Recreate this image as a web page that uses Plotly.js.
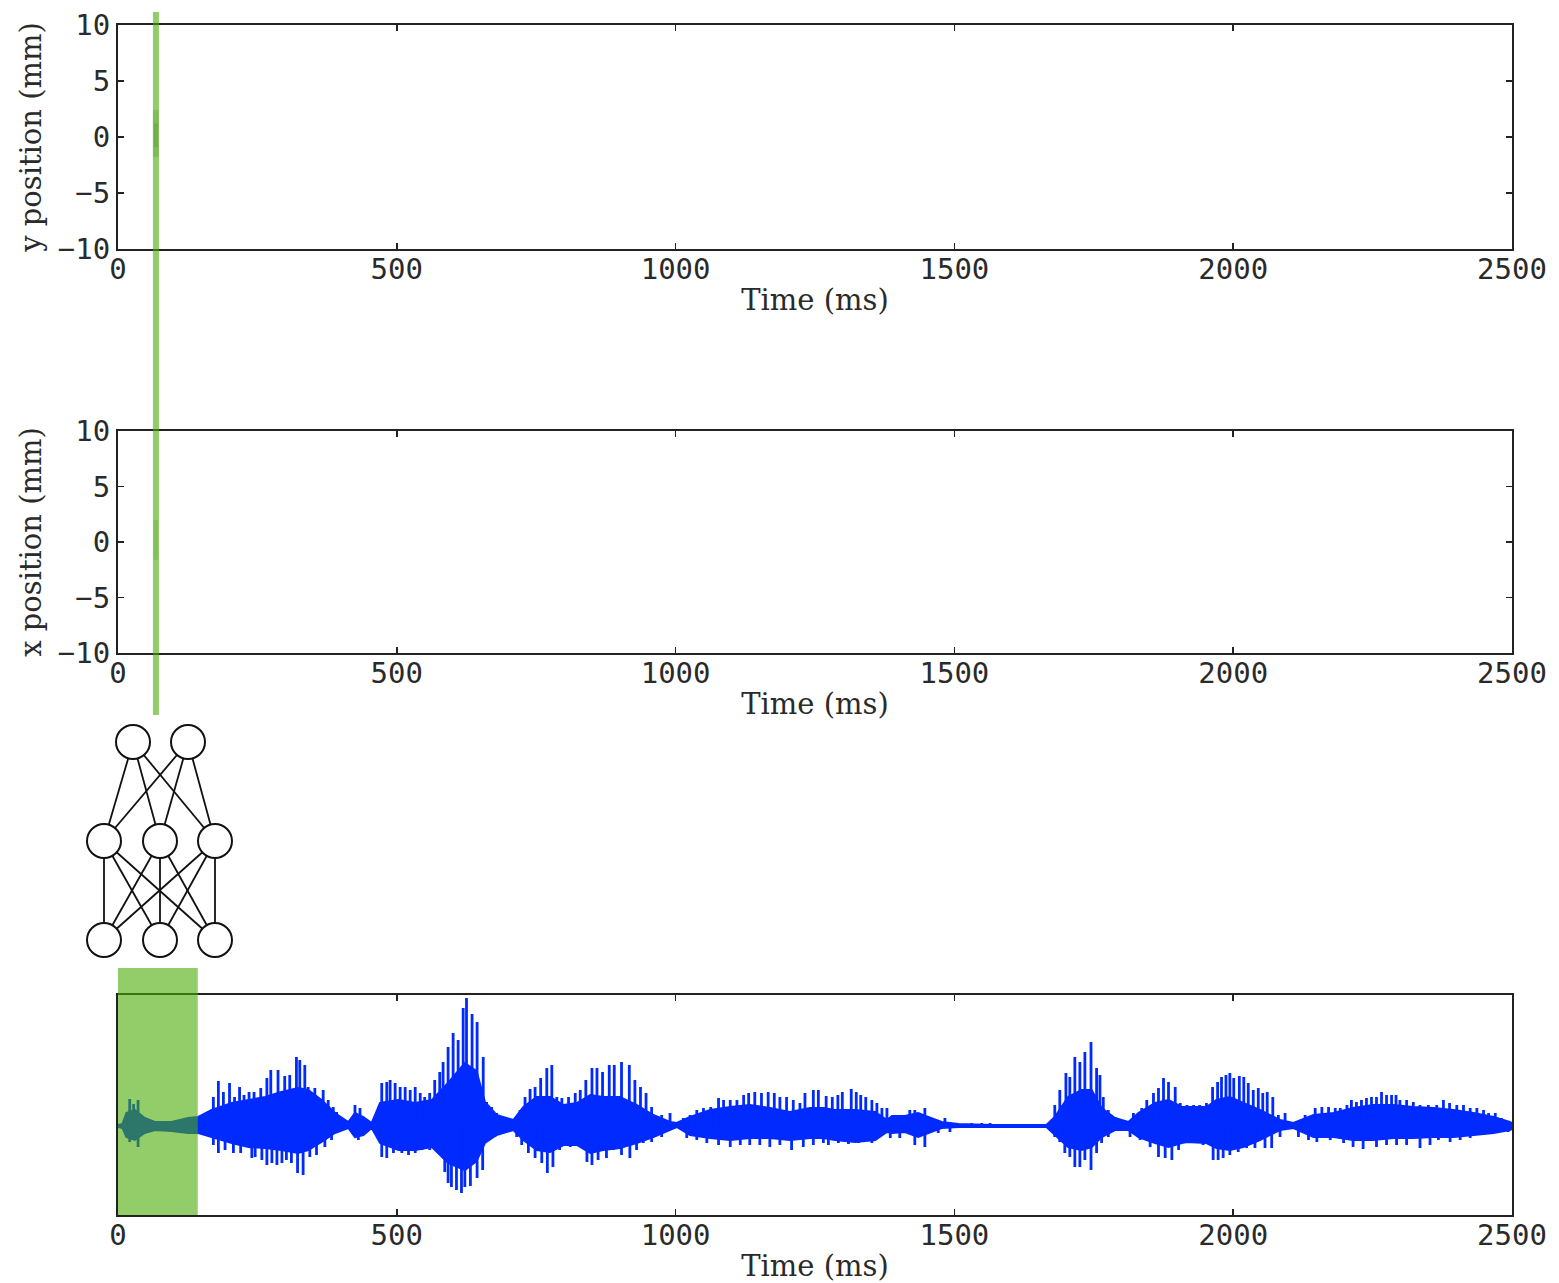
<!DOCTYPE html>
<html>
<head>
<meta charset="utf-8">
<script src="https://cdn.plot.ly/plotly-3.0.1.min.js"></script>
<style>html,body{margin:0;padding:0;background:#fff;}#chart{width:1559px;height:1283px;}</style>
</head>
<body>
<div id="chart"></div>
<script>
// ---------------- data ----------------
const timeTicks = [0, 500, 1000, 1500, 2000, 2500];
const posTicks = [-10, -5, 0, 5, 10];

// current window position (ms) and predicted positions (mm, faint band)
const windowTime = [68];
const yPosLow = [-1.8];
const yPosHigh = [2.4];
const xPosLow = [-1.6];
const xPosHigh = [2.0];

// analysed window of the audio (ms)
const windowStart = [0];
const windowEnd = [143];

// audio waveform: dense core envelope
const coreT = [0,8,15,30,48,66,96,126,144,168,204,234,264,293,323,341,365,389,413,425,440,455,470,503,533,563,592,622,643,658,679,709,727,751,775,799,823,847,870,900,930,960,990,1002,1026,1062,1098,1133,1169,1205,1241,1265,1286,1322,1358,1379,1388,1411,1435,1453,1477,1507,1567,1665,1680,1704,1728,1746,1764,1788,1812,1830,1860,1884,1908,1917,1952,1970,1994,2018,2048,2084,2108,2144,2180,2215,2251,2287,2323,2359,2395,2431,2467,2496,2500];
const coreTop = [0.01,0.02,0.13,0.16,0.08,0.04,0.04,0.08,0.09,0.16,0.23,0.26,0.29,0.34,0.38,0.36,0.26,0.13,0.04,0.13,0.09,0.03,0.23,0.26,0.23,0.26,0.43,0.63,0.55,0.24,0.11,0.06,0.19,0.29,0.29,0.21,0.23,0.31,0.29,0.29,0.21,0.11,0.04,0.03,0.09,0.16,0.19,0.21,0.18,0.14,0.18,0.18,0.16,0.16,0.14,0.06,0.10,0.10,0.13,0.09,0.04,0.02,0.01,0.01,0.09,0.29,0.36,0.36,0.18,0.08,0.04,0.13,0.23,0.26,0.19,0.19,0.19,0.26,0.29,0.23,0.16,0.06,0.03,0.11,0.13,0.18,0.21,0.21,0.19,0.18,0.16,0.13,0.09,0.04,0.03];
const coreBot = [-0.01,-0.02,-0.11,-0.14,-0.07,-0.04,-0.05,-0.07,-0.07,-0.11,-0.17,-0.21,-0.22,-0.24,-0.27,-0.24,-0.16,-0.07,-0.02,-0.11,-0.09,-0.02,-0.17,-0.24,-0.24,-0.21,-0.37,-0.44,-0.35,-0.17,-0.09,-0.04,-0.14,-0.24,-0.26,-0.19,-0.19,-0.27,-0.24,-0.22,-0.17,-0.11,-0.04,-0.01,-0.09,-0.12,-0.14,-0.12,-0.12,-0.14,-0.12,-0.12,-0.14,-0.16,-0.14,-0.06,-0.07,-0.06,-0.11,-0.07,-0.02,-0.01,-0.01,-0.01,-0.09,-0.21,-0.24,-0.21,-0.11,-0.04,-0.04,-0.11,-0.17,-0.21,-0.17,-0.16,-0.17,-0.22,-0.24,-0.21,-0.14,-0.04,-0.02,-0.11,-0.11,-0.14,-0.14,-0.12,-0.12,-0.11,-0.11,-0.09,-0.07,-0.04,-0.03];

// audio waveform: positive glottal-pulse spikes
const upT = [21,28,36,171,180,189,200,209,218,226,235,244,256,267,274,287,299,308,320,326,335,341,353,368,377,386,392,404,425,434,473,482,488,497,506,515,524,533,542,550,559,568,577,583,592,601,610,619,625,635,644,655,661,670,679,721,730,739,748,758,769,778,787,796,808,820,829,839,850,859,869,881,890,903,917,927,937,947,957,975,990,1014,1026,1038,1050,1063,1077,1086,1098,1110,1122,1131,1142,1154,1166,1177,1187,1199,1211,1223,1232,1247,1256,1270,1281,1291,1299,1315,1324,1332,1341,1352,1361,1370,1379,1388,1405,1420,1429,1447,1459,1483,1495,1531,1549,1564,1680,1689,1700,1707,1716,1725,1734,1745,1755,1761,1767,1776,1788,1821,1836,1845,1857,1866,1875,1884,1896,1905,1917,1929,1940,1952,1963,1972,1979,1987,1994,2001,2011,2019,2027,2036,2045,2053,2061,2071,2081,2093,2129,2147,2159,2171,2183,2192,2204,2212,2221,2230,2239,2248,2257,2266,2275,2284,2292,2299,2311,2323,2335,2350,2365,2377,2388,2401,2413,2425,2437,2449,2458,2470,2481,2493];
const upV = [0.27,0.22,0.26,0.29,0.45,0.34,0.43,0.29,0.39,0.31,0.34,0.34,0.38,0.48,0.56,0.56,0.50,0.51,0.69,0.66,0.61,0.39,0.38,0.36,0.26,0.19,0.14,0.06,0.21,0.18,0.43,0.44,0.46,0.43,0.39,0.39,0.36,0.39,0.33,0.29,0.33,0.46,0.54,0.64,0.79,0.93,0.86,1.18,1.28,1.12,1.04,0.69,0.24,0.19,0.13,0.16,0.29,0.37,0.39,0.48,0.58,0.61,0.29,0.28,0.29,0.33,0.36,0.46,0.58,0.58,0.54,0.61,0.61,0.64,0.61,0.46,0.39,0.33,0.19,0.11,0.13,0.08,0.11,0.16,0.18,0.19,0.28,0.26,0.26,0.26,0.31,0.33,0.34,0.33,0.34,0.33,0.29,0.29,0.26,0.23,0.33,0.36,0.36,0.30,0.29,0.31,0.34,0.37,0.34,0.31,0.29,0.26,0.23,0.18,0.18,0.09,0.10,0.16,0.16,0.18,0.08,0.08,0.03,0.03,0.03,0.03,0.21,0.36,0.53,0.49,0.69,0.64,0.74,0.84,0.58,0.51,0.29,0.16,0.09,0.13,0.18,0.26,0.33,0.38,0.48,0.44,0.39,0.23,0.21,0.21,0.21,0.23,0.39,0.44,0.49,0.51,0.53,0.48,0.50,0.49,0.43,0.36,0.38,0.33,0.34,0.29,0.11,0.13,0.11,0.18,0.19,0.19,0.18,0.18,0.21,0.26,0.24,0.26,0.28,0.29,0.29,0.34,0.31,0.31,0.31,0.26,0.26,0.24,0.21,0.21,0.21,0.26,0.23,0.21,0.21,0.18,0.18,0.16,0.13,0.13,0.08,0.04];

// audio waveform: negative spikes
const dnT = [21,36,171,180,192,207,220,240,246,258,267,276,285,294,302,311,322,332,344,356,371,383,392,431,473,482,494,509,521,533,545,559,574,586,592,598,607,616,622,632,644,654,661,676,691,715,724,736,748,760,770,780,792,811,829,841,850,861,876,888,903,918,930,942,957,975,990,1020,1038,1056,1077,1098,1116,1133,1151,1169,1187,1208,1229,1247,1265,1274,1292,1310,1328,1352,1385,1402,1429,1447,1471,1492,1680,1689,1698,1707,1716,1725,1734,1745,1755,1764,1776,1815,1833,1851,1866,1878,1890,1902,1926,1946,1964,1973,1982,1994,2009,2024,2039,2057,2069,2084,2117,2135,2150,2174,2198,2215,2233,2257,2275,2293,2311,2335,2353,2368,2389,2407,2425,2449,2473,2493];
const dnV = [-0.16,-0.21,-0.19,-0.27,-0.24,-0.27,-0.27,-0.32,-0.31,-0.34,-0.39,-0.37,-0.39,-0.37,-0.34,-0.37,-0.47,-0.49,-0.31,-0.29,-0.21,-0.14,-0.07,-0.14,-0.31,-0.32,-0.27,-0.27,-0.29,-0.27,-0.24,-0.24,-0.24,-0.46,-0.57,-0.61,-0.64,-0.67,-0.61,-0.60,-0.52,-0.44,-0.16,-0.11,-0.07,-0.11,-0.19,-0.27,-0.32,-0.37,-0.47,-0.41,-0.24,-0.21,-0.21,-0.36,-0.39,-0.34,-0.32,-0.24,-0.29,-0.32,-0.24,-0.17,-0.16,-0.11,-0.04,-0.12,-0.14,-0.17,-0.19,-0.21,-0.19,-0.19,-0.19,-0.21,-0.19,-0.24,-0.21,-0.19,-0.17,-0.19,-0.17,-0.18,-0.17,-0.17,-0.12,-0.12,-0.19,-0.21,-0.07,-0.06,-0.11,-0.16,-0.27,-0.31,-0.41,-0.41,-0.34,-0.44,-0.27,-0.17,-0.11,-0.11,-0.14,-0.21,-0.31,-0.32,-0.34,-0.24,-0.17,-0.19,-0.34,-0.34,-0.32,-0.29,-0.26,-0.22,-0.22,-0.22,-0.22,-0.11,-0.11,-0.14,-0.16,-0.14,-0.17,-0.21,-0.23,-0.21,-0.19,-0.19,-0.19,-0.22,-0.19,-0.14,-0.16,-0.14,-0.12,-0.09,-0.07,-0.06];

// ---------------- styling / layout helpers ----------------
const W = 1559, H = 1283;
const M = {l: 118, r: 47, t: 25, b: 68};
const PW = W - M.l - M.r, PH = H - M.t - M.b;
const pxX = p => (p - M.l) / PW;
const pxY = p => (H - M.b - p) / PH;

const BLUE = 'rgb(0,42,255)';
const GREEN = 'rgba(74,172,5,0.6)';
const tickFont = {family: 'DejaVu Sans Mono', size: 29, color: '#2a2a2a'};
const titleFont = {family: 'DejaVu Serif', size: 29, color: '#2a2a2a'};

function spikes(ts, vs) {
  const x = [], y = [];
  ts.forEach((t, i) => { x.push(t, t, null); y.push(0, vs[i], null); });
  return {x, y};
}
const su = spikes(upT, upV), sd = spikes(dnT, dnV);

const traces = [
  {x: [windowTime[0], windowTime[0]], y: [yPosLow[0], yPosHigh[0]], xaxis: 'x', yaxis: 'y', mode: 'lines',
   line: {color: 'rgba(120,140,110,0.35)', width: 6}, hoverinfo: 'skip', showlegend: false},
  {x: [windowTime[0], windowTime[0]], y: [yPosLow[0] * 0.5, yPosHigh[0] * 0.5], xaxis: 'x', yaxis: 'y', mode: 'lines',
   line: {color: 'rgba(100,120,90,0.35)', width: 4}, hoverinfo: 'skip', showlegend: false},
  {x: [windowTime[0], windowTime[0]], y: [xPosLow[0], xPosHigh[0]], xaxis: 'x2', yaxis: 'y2', mode: 'lines',
   line: {color: 'rgba(150,160,140,0.3)', width: 5}, hoverinfo: 'skip', showlegend: false},
  {x: coreT.concat(coreT.slice().reverse()), y: coreTop.concat(coreBot.slice().reverse()),
   xaxis: 'x3', yaxis: 'y3', mode: 'lines', fill: 'toself', fillcolor: BLUE,
   line: {color: BLUE, width: 2}, hoverinfo: 'skip', showlegend: false},
  {x: su.x, y: su.y, xaxis: 'x3', yaxis: 'y3', mode: 'lines', line: {color: BLUE, width: 2.8}, hoverinfo: 'skip', showlegend: false},
  {x: sd.x, y: sd.y, xaxis: 'x3', yaxis: 'y3', mode: 'lines', line: {color: BLUE, width: 2.8}, hoverinfo: 'skip', showlegend: false}
];

function xax(anchor) {
  return {domain: [0, 1], anchor: anchor, range: [0, 2500], tickvals: timeTicks, ticktext: timeTicks.map(String),
    ticks: 'inside', ticklen: 6, tickwidth: 1.5, tickcolor: '#222', showline: true, linewidth: 2, linecolor: '#222',
    mirror: 'all', showgrid: false, zeroline: false, tickfont: tickFont, automargin: false, ticklabelstandoff: -7,
    title: {text: 'Time (ms)', font: titleFont, standoff: 5}};
}
function yax(domain, title) {
  return {domain: domain, range: [-10, 10], tickvals: posTicks, ticks: 'inside', ticklen: 6, tickwidth: 1.5,
    tickcolor: '#222', showline: true, linewidth: 2, linecolor: '#222', mirror: 'all', showgrid: false,
    zeroline: false, tickfont: tickFont, automargin: false, title: {text: title, font: titleFont, standoff: 8}};
}

// network diagram (pixel layout)
const nodes = [[133,742],[188,742],[104,841],[160,841],[215,841],[104,940],[160,940],[215,940]];
const edges = [[0,2],[0,3],[0,4],[1,2],[1,3],[1,4],[2,5],[2,6],[2,7],[3,5],[3,6],[3,7],[4,5],[4,6],[4,7]];
const R = 17;
const shapes = [];
edges.forEach(e => {
  const a = nodes[e[0]], b = nodes[e[1]];
  shapes.push({type: 'line', xref: 'paper', yref: 'paper', x0: pxX(a[0]), y0: pxY(a[1]), x1: pxX(b[0]), y1: pxY(b[1]),
    line: {color: '#111', width: 1.8}});
});
nodes.forEach(n => {
  shapes.push({type: 'circle', xref: 'paper', yref: 'paper', x0: pxX(n[0]-R), x1: pxX(n[0]+R), y0: pxY(n[1]+R), y1: pxY(n[1]-R),
    fillcolor: '#fff', line: {color: '#111', width: 2}});
});
// green time marker across top two panels
shapes.push({type: 'line', xref: 'x', yref: 'paper', x0: windowTime[0], x1: windowTime[0], y0: pxY(715), y1: pxY(12),
  line: {color: GREEN, width: 6}, layer: 'above'});
// green analysis window on audio
shapes.push({type: 'rect', xref: 'x3', yref: 'paper', x0: windowStart[0], x1: windowEnd[0], y0: 0, y1: pxY(968),
  fillcolor: GREEN, line: {width: 0}, layer: 'above'});

const layout = {
  width: W, height: H, margin: M, paper_bgcolor: '#fff', plot_bgcolor: '#fff', showlegend: false,
  xaxis: xax('y'), xaxis2: xax('y2'), xaxis3: xax('y3'),
  yaxis: yax([pxY(249), pxY(25)], 'y position (mm)'),
  yaxis2: yax([pxY(653), pxY(431)], 'x position (mm)'),
  yaxis3: {domain: [0, pxY(995)], range: [-0.89, 1.31], showticklabels: false, ticks: '', showline: true,
    linewidth: 2, linecolor: '#222', mirror: 'all', showgrid: false, zeroline: false, automargin: false},
  shapes: shapes
};

Plotly.newPlot('chart', traces, layout, {staticPlot: true, displayModeBar: false});
</script>
</body>
</html>
